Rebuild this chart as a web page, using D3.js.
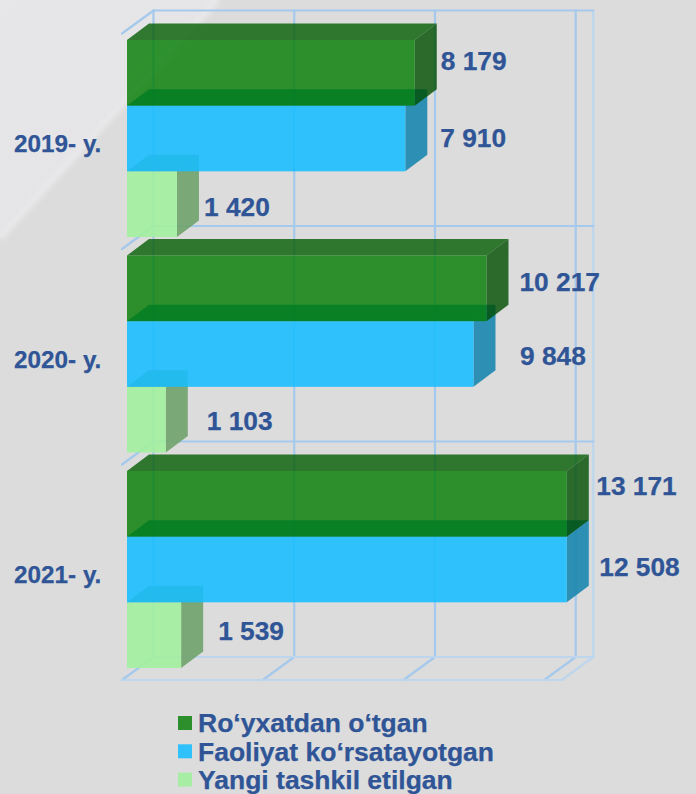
<!DOCTYPE html>
<html><head><meta charset="utf-8">
<script src="https://d3js.org/d3.v7.min.js"></script>
<style>html,body{margin:0;padding:0;background:#dcdcdc}svg{display:block}text{font-family:"Liberation Sans",Arial,sans-serif;font-weight:700;fill:#2f5597;stroke:#2f5597;stroke-width:.25px}</style>
</head><body><svg id="c" width="696" height="794"></svg>
<script>
const years = ["2019- y.", "2020- y.", "2021- y."];
const seriesNames = ["Ro‘yxatdan o‘tgan", "Faoliyat ko‘rsatayotgan", "Yangi tashkil etilgan"];
const registered = [8179, 10217, 13171];
const active = [7910, 9848, 12508];
const newlyFounded = [1420, 1103, 1539];
const gridTicks = [0, 4000, 8000, 12000];
const axisMax = 12500;

const seriesValues = [registered, active, newlyFounded];
const legendColors = ["#2c8f2c", "#2fc1fb", "#a8eda4"];
const faces = [
  {front:"rgb(0,124,0)",   top:"rgb(4,92,2)",     side:"rgb(0,77,0)",     a:0.8},
  {front:"rgb(23,189,255)",top:"rgb(21,132,173)", side:"rgb(21,132,173)", a:0.88},
  {front:"rgb(162,239,158)",top:"rgb(112,162,108)",side:"rgb(112,162,108)",a:0.9}
];
// label nudges in px from each bar's end, [series][year]: the source placed them by hand
const labelNudgeX = [[4,11,7.5],[13,24.5,10.5],[5,19,15]];
const labelNudgeY = [[-12,-6.5,-18],[-0.5,2,-2.5],[3,1.5,-4]];

const svg = d3.select("#c");
const defs = svg.append("defs");
const bg = defs.append("linearGradient").attr("id","bgg").attr("x1",0).attr("y1",0).attr("x2",1).attr("y2",1);
bg.append("stop").attr("offset",0).attr("stop-color","#e7e7e9");
bg.append("stop").attr("offset",1).attr("stop-color","#e3e3e5");
defs.append("filter").attr("id","blur").append("feGaussianBlur").attr("stdDeviation",2.5);

svg.append("rect").attr("width",696).attr("height",794).attr("fill","#dcdcdc");
svg.append("path").attr("d","M0,0L218,0L0,238Z").attr("fill","url(#bgg)");
svg.append("path").attr("d","M0,238L218,0").attr("stroke","#e9e9eb").attr("stroke-width",6).attr("fill","none").attr("filter","url(#blur)");

const x = d3.scaleLinear().domain([0,axisMax]).range([127,566.8]).clamp(true);
const yCat = d3.scaleBand().domain(years).range([33.5,680]);
const inset = 6.5, clusterH = 197;
const ySer = d3.scaleBand().domain(d3.range(3)).range([0,clusterH]);

// 3-D frame
const gridDx = 31.5, gridDy = -23, gridShift = -5, floorY = 680;
const gx = v => x(v) + gridShift;
const grid = svg.append("g").attr("fill","none").attr("stroke-linecap","round");
const gridCol = "#a5c9ec", gridPale = "#bdd6ee";
const line = (a,b,c,d,col=gridCol,w=2.2)=>grid.append("line").attr("x1",a).attr("y1",b).attr("x2",c).attr("y2",d).attr("stroke",col).attr("stroke-width",w);
const backTop = yCat(years[0]) + gridDy;
gridTicks.forEach(t=>{
  line(gx(t)+gridDx,backTop,gx(t)+gridDx,floorY+gridDy);
  line(gx(t),floorY,gx(t)+gridDx,floorY+gridDy);
});
const xEnd = gx(axisMax);
line(xEnd+gridDx,backTop,xEnd+gridDx,floorY+gridDy,gridPale);
line(xEnd,floorY,xEnd+gridDx,floorY+gridDy,gridPale);
line(gx(0),floorY,xEnd,floorY,gridPale);
line(gx(0)+gridDx,floorY+gridDy,xEnd+gridDx,floorY+gridDy,gridPale);
years.forEach(c=>{
  const y = yCat(c);
  line(gx(0)+gridDx,y+gridDy,xEnd+gridDx,y+gridDy);
  line(gx(0),y,gx(0)+gridDx,y+gridDy);
});

// bars: lowest series first, so each translucent front covers the top of the bar beneath it
const barDx = 22, barDy = -16.5;
const bars = svg.append("g");
years.forEach((c,i)=>{
  [2,1,0].forEach(s=>{
    const v = seriesValues[s][i], k = faces[s];
    const x0 = x(0), x1 = x(v), h = ySer.bandwidth();
    const y0 = yCat(c)+inset+ySer(s), y1 = y0+h;
    const g = bars.append("g");
    g.append("path").attr("d",`M${x0},${y0}L${x1},${y0}L${x1+barDx},${y0+barDy}L${x0+barDx},${y0+barDy}Z`).attr("fill",k.top).attr("fill-opacity",k.a);
    g.append("path").attr("d",`M${x1},${y0}L${x1+barDx},${y0+barDy}L${x1+barDx},${y1+barDy}L${x1},${y1}Z`).attr("fill",k.side).attr("fill-opacity",k.a);
    g.append("rect").attr("x",x0).attr("y",y0).attr("width",x1-x0).attr("height",h).attr("fill",k.front).attr("fill-opacity",k.a);
  });
});

// value labels
years.forEach((c,i)=>{
  seriesValues.forEach((vals,s)=>{
    const v = vals[i];
    svg.append("text")
      .attr("x",x(v)+barDx+labelNudgeX[s][i])
      .attr("y",yCat(c)+inset+ySer(s)+ySer.bandwidth()/2+labelNudgeY[s][i])
      .attr("dy","0.35em").attr("font-size",26.3)
      .text(d3.format(",")(v).replace(/,/g," "));
  });
  svg.append("text").attr("x",14).attr("y",yCat(c)+inset+ySer(1)+ySer.bandwidth()/2+5).attr("dy","0.35em").attr("font-size",24.3).text(c);
});

// legend
seriesNames.forEach((n,s)=>{
  const y = 723 + s*28.3;
  svg.append("rect").attr("x",178).attr("y",y-7).attr("width",14).attr("height",14).attr("fill",legendColors[s]);
  svg.append("text").attr("x",198).attr("y",y).attr("dy","0.35em").attr("font-size",26.5).text(n);
});
</script></body></html>
